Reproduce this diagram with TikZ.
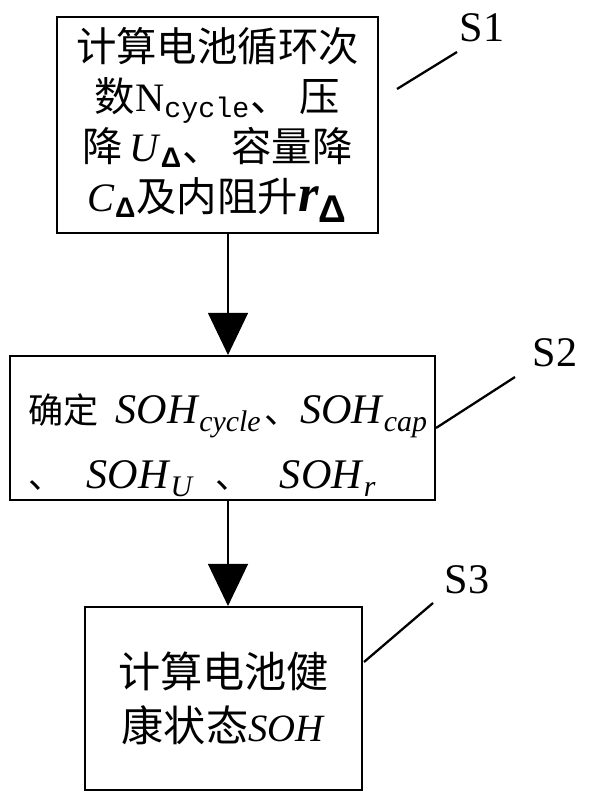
\documentclass[tikz,border=0pt]{standalone}
\usepackage{fontspec}
\setmainfont{Liberation Serif}
\setsansfont{Liberation Sans}
\setmonofont{Liberation Mono}
\newfontfamily\cjk{Noto Sans CJK SC}
\newcommand\zhs{\fontsize{20}{37}\selectfont\cjk}
\newcommand\dlt{\textsubscript{\sffamily\bfseries Δ}}
\newcommand\lsub[1]{\raisebox{-0.45ex}{\fontsize{17}{17}\selectfont\itshape #1}}
\usetikzlibrary{arrows.meta}
\begin{document}
\begin{tikzpicture}[x=0.02cm,y=-0.02cm,
  box/.style={draw,line width=1.2pt,inner sep=0pt},
  flow/.style={line width=0.6pt,-{Triangle[length=0.84cm,width=0.8cm]}},
  lead/.style={line width=1.3pt},
  slabel/.style={font=\fontsize{24}{24}\selectfont,inner sep=0pt}]
  \useasboundingbox (0,0) rectangle (590,807);
  % step boxes
  \node[box,minimum width=6.42cm,minimum height=4.32cm,align=center,
        font=\fontsize{23}{28.5}\selectfont] (b1) at (217.5,125)
    {{\cjk 计算电池循环次}\\
     {\cjk 数}N\textsubscript{\ttfamily cycle}{\cjk 、\ 压}\\
     {\cjk 降}\,\textit{U}\dlt{\cjk 、\ 容量降}\\
     \textit{C}\dlt{\cjk 及内阻升}{\fontsize{30}{30}\selectfont\bfseries\itshape r}\textsubscript{\sffamily\bfseries\fontsize{22}{22}\selectfont Δ}};
  \node[box,minimum width=8.5cm,minimum height=2.88cm] (b2) at (222.5,428) {};
  \node[anchor=north west,inner sep=0pt,align=left,
        font=\fontsize{24}{37}\selectfont] (t2) at (28,393)
    {{\zhs 确定}\hspace{0.4em}\textit{SOH}\lsub{cycle}\hspace{0.1em}{\zhs 、}\textit{SOH}\lsub{cap}\\
     {\zhs 、}\hspace{0.55em}\textit{SOH}\lsub{U}\hspace{0.55em}{\zhs 、}\hspace{0.7em}\textit{SOH}\lsub{r}};
  \node[box,minimum width=5.54cm,minimum height=3.66cm,align=center,
        font=\fontsize{24}{31}\selectfont] (b3) at (223.5,698.5)
    {{\cjk 计算电池健}\\{\cjk 康状态}{\fontsize{22}{22}\selectfont\textit{SOH}}};
  % flow arrows
  \coordinate (ax) at (228,0);
  \draw[flow] (b1.south -| ax) -- (b2.north -| ax);
  \draw[flow] (b2.south -| ax) -- (b3.north -| ax);
  % step labels
  \node[slabel] (s1) at (482,28) {S1};
  \node[slabel] (s2) at (555,353) {S2};
  \node[slabel] (s3) at (467,580) {S3};
  \coordinate (l1) at (397,89);
  \coordinate (m1) at (457,52);
  \coordinate (m2) at (515,377);
  \coordinate (l3) at (364,662);
  \coordinate (m3) at (433,603);
  \draw[lead] (l1) -- (m1);
  \draw[lead] (b2.east) -- (m2);
  \draw[lead] (l3) -- (m3);
\end{tikzpicture}
\end{document}
